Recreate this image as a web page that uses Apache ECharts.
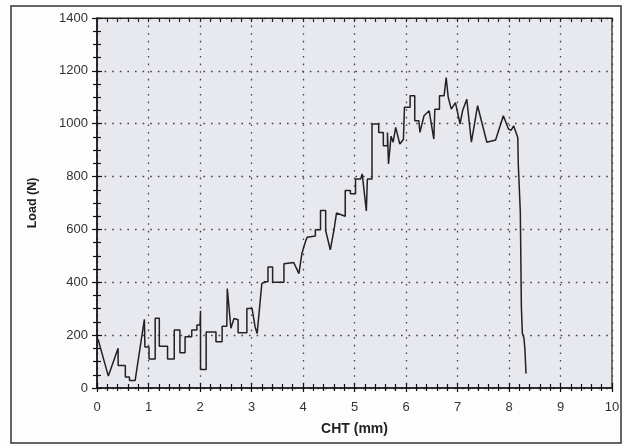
<!DOCTYPE html>
<html>
<head>
<meta charset="utf-8">
<script src="https://cdn.jsdelivr.net/npm/echarts@6/dist/echarts.min.js"></script>
<style>
html,body{margin:0;padding:0;background:#fdfdfd;}
#c{width:625px;height:446px;}
</style>
</head>
<body>
<div id="c"></div>
<script>
// CHT (mm) values
const cht = [0.02,0.22,0.41,0.41,0.55,0.55,0.63,0.63,0.74,0.92,0.93,1.01,1.01,1.13,1.13,1.21,1.21,1.37,1.37,1.50,1.50,1.61,1.61,1.71,1.71,1.84,1.84,1.94,1.94,2.00,2.01,2.01,2.12,2.12,2.31,2.31,2.43,2.43,2.52,2.53,2.60,2.66,2.74,2.74,2.91,2.91,3.01,3.07,3.11,3.20,3.26,3.32,3.32,3.41,3.41,3.63,3.63,3.82,3.92,3.98,4.05,4.08,4.24,4.24,4.34,4.34,4.44,4.44,4.53,4.60,4.65,4.82,4.82,4.92,4.92,5.02,5.02,5.12,5.15,5.20,5.23,5.25,5.34,5.34,5.47,5.47,5.56,5.56,5.64,5.64,5.66,5.71,5.75,5.80,5.88,5.95,5.97,6.08,6.08,6.17,6.17,6.25,6.27,6.35,6.45,6.54,6.56,6.65,6.65,6.74,6.78,6.82,6.88,6.96,7.05,7.10,7.18,7.27,7.39,7.57,7.74,7.89,7.99,8.04,8.09,8.17,8.18,8.22,8.23,8.24,8.26,8.29,8.31,8.33];
// Load (N) values
const load = [185,45,150,85,85,42,42,28,28,260,155,155,110,110,264,264,158,158,110,110,219,219,133,133,194,194,219,219,238,238,292,70,70,212,212,175,175,234,234,376,226,263,258,209,209,301,301,231,206,395,402,402,458,458,400,400,470,475,433,510,555,570,575,599,599,672,672,596,523,596,662,650,747,747,735,735,791,791,810,722,670,791,791,999,999,967,967,917,917,967,848,953,930,986,923,941,1062,1062,1106,1106,1011,1011,967,1030,1049,942,1055,1055,1106,1106,1175,1100,1055,1080,999,1050,1093,930,1068,930,938,1030,980,975,992,948,848,665,483,307,206,190,143,55];
const xTicks = {min:0, max:10, interval:1};
const yTicks = {min:0, max:1400, interval:200};

const data = cht.map((x,i)=>[x, load[i]]);
const font = {fontFamily:'Liberation Sans, Arial, sans-serif', fontSize:13, color:'#333'};
const dotted = {show:true, lineStyle:{type:[1.6,6], color:'#444', width:1.3}};
const plain = v => String(v);

const chart = echarts.init(document.getElementById('c'));
chart.setOption({
  animation:false,
  backgroundColor:'#fdfdfd',
  graphic:[{type:'rect', shape:{x:11,y:6,width:610,height:437}, style:{fill:'none', stroke:'#333', lineWidth:1.5}, z:-1}],
  grid:{left:97, right:13, top:18, bottom:58, show:true, backgroundColor:'#e8e8ef', borderColor:'#222', borderWidth:1.2},
  xAxis:[
    {type:'value', position:'bottom', min:xTicks.min, max:xTicks.max, interval:xTicks.interval,
     axisLine:{lineStyle:{color:'#111', width:1.5}},
     axisTick:{show:true, length:4, lineStyle:{color:'#111', width:1.2}},
     minorTick:{show:true, splitNumber:5, length:3, lineStyle:{color:'#111', width:1.2}},
     axisLabel:Object.assign({margin:13, formatter:plain}, font),
     splitLine:dotted,
     name:'CHT (mm)', nameLocation:'middle', nameGap:34,
     nameTextStyle:Object.assign({}, font, {fontSize:14, fontWeight:'bold', color:'#222'})},
    {type:'value', position:'bottom', min:xTicks.min, max:xTicks.max, interval:xTicks.interval,
     axisLine:{show:false}, axisLabel:{show:false}, splitLine:{show:false},
     axisTick:{show:true, inside:true, length:5, lineStyle:{color:'#111', width:1.2}},
     minorTick:{show:true, splitNumber:5, length:4, lineStyle:{color:'#111', width:1.2}}},
    {type:'value', position:'top', min:xTicks.min, max:xTicks.max, interval:xTicks.interval,
     axisLine:{show:true, lineStyle:{color:'#222', width:1.2}}, axisLabel:{show:false}, splitLine:{show:false},
     axisTick:{show:true, inside:true, length:4, lineStyle:{color:'#222', width:1.2}},
     minorTick:{show:true, splitNumber:5, length:4, lineStyle:{color:'#222', width:1.2}}}
  ],
  yAxis:[
    {type:'value', position:'left', min:yTicks.min, max:yTicks.max, interval:yTicks.interval,
     axisLine:{show:true, lineStyle:{color:'#111', width:1.5}},
     axisTick:{show:true, length:5, lineStyle:{color:'#111', width:1.2}},
     minorTick:{show:true, splitNumber:4, length:4, lineStyle:{color:'#111', width:1.2}},
     axisLabel:Object.assign({margin:9, formatter:plain}, font),
     splitLine:dotted,
     name:'Load (N)', nameLocation:'middle', nameGap:58, nameRotate:90,
     nameTextStyle:Object.assign({}, font, {fontSize:12.5, fontWeight:'bold', color:'#222'})},
    {type:'value', position:'left', min:yTicks.min, max:yTicks.max, interval:yTicks.interval,
     axisLine:{show:false}, axisLabel:{show:false}, splitLine:{show:false},
     axisTick:{show:true, inside:true, length:5, lineStyle:{color:'#111', width:1.2}},
     minorTick:{show:true, splitNumber:4, length:4, lineStyle:{color:'#111', width:1.2}}}
  ],
  series:[{type:'line', xAxisIndex:0, yAxisIndex:0, data:data, showSymbol:false, symbol:'none',
    lineStyle:{color:'#222', width:1.5}}]
});
</script>
</body>
</html>
